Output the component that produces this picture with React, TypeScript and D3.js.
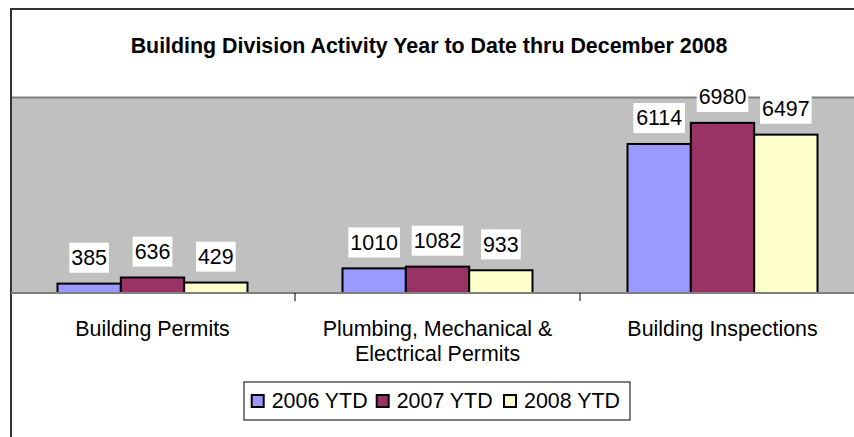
import React from "react";
import * as d3 from "d3";

const categories: string[][] = [
  ["Building Permits"],
  ["Plumbing, Mechanical &", "Electrical Permits"],
  ["Building Inspections"],
];
const seriesNames = ["2006 YTD", "2007 YTD", "2008 YTD"];
const seriesColors = ["#9999FF", "#993366", "#FFFFCC"];
const values2006 = [385, 1010, 6114];
const values2007 = [636, 1082, 6980];
const values2008 = [429, 933, 6497];
const seriesValues = [values2006, values2007, values2008];
const yMax = 8000;
const title = "Building Division Activity Year to Date thru December 2008";

const FONT = "'Liberation Sans', Arial, sans-serif";

export default function App() {
  const W = 854;
  const H = 437;
  const plotLeft = 11;
  const plotRight = 865;
  const plotTop = 98;
  const plotBottom = 293;
  const fs = 21.4;

  const catIdx = categories.map((_, i) => i);
  const x0 = d3.scaleBand<number>().domain(catIdx).range([plotLeft - 1, plotRight]).padding(0);
  const x1 = d3
    .scaleBand<number>()
    .domain(seriesNames.map((_, i) => i))
    .range([0, x0.bandwidth()])
    .paddingInner(0)
    .paddingOuter(0.75);
  const y = d3.scaleLinear().domain([0, yMax]).range([plotBottom, plotTop]);

  const legendX = 244;
  const legendY = 382;
  const legendItemX = [251.7, 376.7, 504];

  return (
    <svg
      width={W}
      height={H}
      style={{ position: "absolute", left: 0, top: 0, fontFamily: FONT }}
    >
      <rect x={0} y={0} width={W} height={H} fill="#fff" />
      {/* outer chart border */}
      <rect x={11} y={9} width={880} height={460} fill="none" stroke="#333" strokeWidth={2} />
      {/* title */}
      <text x={429} y={53} textAnchor="middle" fontWeight="bold" fontSize={21.4} fill="#000">
        {title}
      </text>
      {/* plot area */}
      <rect
        x={plotLeft + 1}
        y={plotTop}
        width={plotRight - plotLeft + 20}
        height={plotBottom - plotTop}
        fill="#C0C0C0"
      />
      <line x1={plotLeft + 1} x2={W} y1={plotTop - 0.5} y2={plotTop - 0.5} stroke="#808080" strokeWidth={2} />
      {/* bars */}
      {catIdx.map((ci) =>
        seriesNames.map((_, si) => {
          const v = seriesValues[si][ci];
          const bx = (x0(ci) as number) + (x1(si) as number);
          const by = y(v);
          return (
            <rect
              key={`b${ci}-${si}`}
              x={bx}
              y={by}
              width={x1.bandwidth()}
              height={plotBottom - by}
              fill={seriesColors[si]}
              stroke="#000"
              strokeWidth={2}
            />
          );
        })
      )}
      {/* axis line and ticks */}
      <line x1={plotLeft} x2={W} y1={plotBottom} y2={plotBottom} stroke="#808080" strokeWidth={2} />
      {catIdx.slice(1).map((ci) => (
        <line
          key={`t${ci}`}
          x1={x0(ci) as number}
          x2={x0(ci) as number}
          y1={plotBottom}
          y2={plotBottom + 8}
          stroke="#000"
          strokeWidth={1}
        />
      ))}
      {/* data labels */}
      {catIdx.map((ci) =>
        seriesNames.map((_, si) => {
          const v = seriesValues[si][ci];
          const cx = (x0(ci) as number) + (x1(si) as number) + x1.bandwidth() / 2;
          const base = y(v) - 18.5;
          const label = String(v);
          const tw = label.length * 0.556 * fs + 4;
          return (
            <g key={`l${ci}-${si}`}>
              <rect x={cx - tw / 2} y={base - 22.4} width={tw} height={30} fill="#fff" />
              <text x={cx} y={base} textAnchor="middle" fontSize={fs} fill="#000">
                {label}
              </text>
            </g>
          );
        })
      )}
      {/* category labels */}
      {categories.map((lines, ci) => (
        <text
          key={`c${ci}`}
          x={(x0(ci) as number) + x0.bandwidth() / 2}
          y={336}
          textAnchor="middle"
          fontSize={fs}
          fill="#000"
        >
          {lines.map((ln, li) => (
            <tspan key={li} x={(x0(ci) as number) + x0.bandwidth() / 2} dy={li === 0 ? 0 : 25}>
              {ln}
            </tspan>
          ))}
        </text>
      ))}
      {/* legend */}
      <rect x={legendX} y={legendY} width={386} height={38} fill="#fff" stroke="#000" strokeWidth={1} />
      {seriesNames.map((name, si) => (
        <g key={`lg${si}`}>
          <rect
            x={legendItemX[si]}
            y={395}
            width={12}
            height={12}
            fill={seriesColors[si]}
            stroke="#000"
            strokeWidth={2}
          />
          <text x={legendItemX[si] + 20} y={408} fontSize={fs} fill="#000">
            {name}
          </text>
        </g>
      ))}
    </svg>
  );
}
